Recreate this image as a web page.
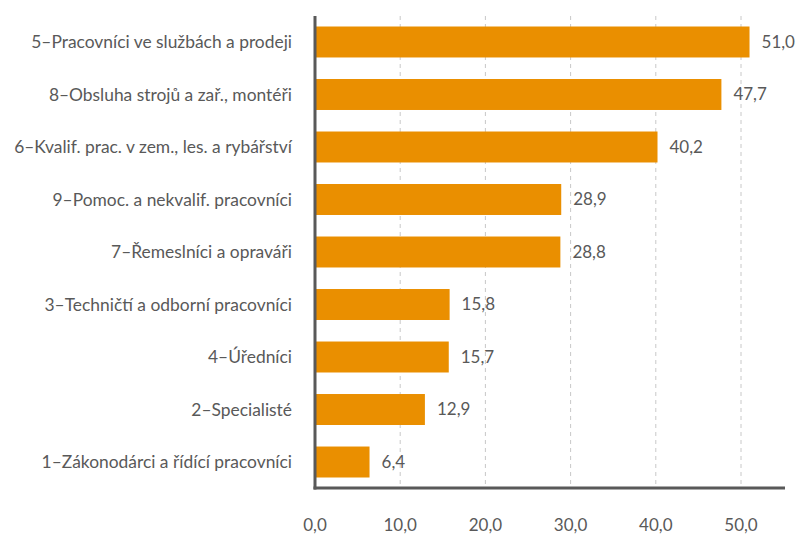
<!DOCTYPE html>
<html>
<head>
<meta charset="utf-8">
<script src="https://cdn.jsdelivr.net/npm/d3@7"></script>
<style>
  body { margin: 0; background: #fff; }
  text { font-family: Lato, 'Open Sans', sans-serif; fill: #595959; }
</style>
</head>
<body>
<div id="viz"></div>
<script>
const width = 798;
const height = 536;
const marginLeft = 315;
const marginTop = 16;
const marginBottom = 48;

const barColor = '#ea8f00';

const categories = [
  '5–Pracovníci ve službách a prodeji',
  '8–Obsluha strojů a zař., montéři',
  '6–Kvalif. prac. v zem., les. a rybářství',
  '9–Pomoc. a nekvalif. pracovníci',
  '7–Řemeslníci a opraváři',
  '3–Techničtí a odborní pracovníci',
  '4–Úředníci',
  '2–Specialisté',
  '1–Zákonodárci a řídící pracovníci',
];
const values = [51.0, 47.7, 40.2, 28.9, 28.8, 15.8, 15.7, 12.9, 6.4];
const tickValues = [0, 10, 20, 30, 40, 50];

const fmt = (d) => d3.format('.1f')(d).replace('.', ',');

const data = categories.map((c, i) => ({ name: c, value: values[i] }));

const svg = d3
  .select('#viz')
  .append('svg')
  .attr('width', width)
  .attr('height', height);

// 0 at 315, 50 at ~741
const xScale = d3
  .scaleLinear()
  .domain([0, 50])
  .range([marginLeft, 741]);

const yScale = d3
  .scaleBand()
  .domain(categories)
  .range([marginTop, height - marginBottom])
  .paddingInner(0.41)
  .paddingOuter(0.2);

const axisEnd = 785;

// dashed gridlines
svg
  .append('g')
  .selectAll('line')
  .data(tickValues.slice(1))
  .enter()
  .append('line')
  .attr('x1', (d) => xScale(d))
  .attr('x2', (d) => xScale(d))
  .attr('y1', marginTop)
  .attr('y2', height - marginBottom)
  .attr('stroke', '#c8c8c8')
  .attr('stroke-width', 1)
  .attr('stroke-dasharray', '4,4');

// bars
svg
  .append('g')
  .selectAll('rect')
  .data(data)
  .enter()
  .append('rect')
  .attr('x', xScale(0))
  .attr('y', (d) => yScale(d.name))
  .attr('width', (d) => xScale(d.value) - xScale(0))
  .attr('height', yScale.bandwidth())
  .attr('fill', barColor);

// value labels
svg
  .append('g')
  .selectAll('text')
  .data(data)
  .enter()
  .append('text')
  .attr('x', (d) => xScale(d.value) + 12)
  .attr('y', (d) => yScale(d.name) + yScale.bandwidth() / 2)
  .attr('dy', '0.35em')
  .style('font-size', '17px')
  .text((d) => fmt(d.value));

// category labels
svg
  .append('g')
  .selectAll('text')
  .data(data)
  .enter()
  .append('text')
  .attr('x', 292)
  .attr('y', (d) => yScale(d.name) + yScale.bandwidth() / 2)
  .attr('dy', '0.35em')
  .attr('text-anchor', 'end')
  .style('font-size', '17.4px')
  .text((d) => d.name);

// x tick labels
svg
  .append('g')
  .selectAll('text')
  .data(tickValues)
  .enter()
  .append('text')
  .attr('x', (d) => xScale(d))
  .attr('y', 531)
  .attr('text-anchor', 'middle')
  .style('font-size', '17px')
  .text((d) => fmt(d));

// axis lines
svg
  .append('line')
  .attr('x1', xScale(0))
  .attr('x2', xScale(0))
  .attr('y1', marginTop)
  .attr('y2', height - marginBottom + 1.5)
  .attr('stroke', '#595959')
  .attr('stroke-width', 3);

svg
  .append('line')
  .attr('x1', xScale(0) - 1.5)
  .attr('x2', axisEnd)
  .attr('y1', height - marginBottom)
  .attr('y2', height - marginBottom)
  .attr('stroke', '#595959')
  .attr('stroke-width', 3);
</script>
</body>
</html>
